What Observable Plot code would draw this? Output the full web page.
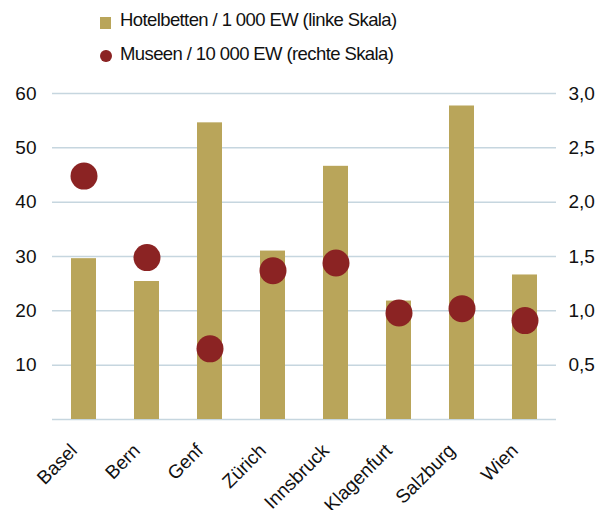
<!DOCTYPE html>
<html>
<head>
<meta charset="utf-8">
<script src="https://cdn.jsdelivr.net/npm/d3@7"></script>
<script src="https://cdn.jsdelivr.net/npm/@observablehq/plot@0.6"></script>
<style>
  body { margin: 0; background: #fff; font-family: "Liberation Sans", Arial, sans-serif; }
  #wrap { width: 616px; }
  #legend { position: relative; height: 75px; width: 616px; }
  #legend .sw { position: absolute; }
  #legend .lt { position: absolute; left: 120px; font-size: 18.5px; line-height: 18.5px; letter-spacing: -0.6px; color: #111; white-space: nowrap; }
</style>
</head>
<body>
<div id="wrap">
  <div id="legend"></div>
  <div id="chart"></div>
</div>
<script>
const cities = ["Basel", "Bern", "Genf", "Zürich", "Innsbruck", "Klagenfurt", "Salzburg", "Wien"];
const hotelbetten = [29.6, 25.4, 54.6, 31.0, 46.6, 21.8, 57.7, 26.6];
const museen = [2.24, 1.49, 0.65, 1.37, 1.44, 0.98, 1.02, 0.91];
const leftTicks = [10, 20, 30, 40, 50, 60];
const rightTicks = [0.5, 1.0, 1.5, 2.0, 2.5, 3.0];
const gridValues = [0, 10, 20, 30, 40, 50, 60];
const seriesNames = ["Hotelbetten / 1 000 EW (linke Skala)", "Museen / 10 000 EW (rechte Skala)"];
const barColor = "#b9a55a";
const dotColor = "#8b2323";
const gridColor = "#c6d6df";
const ratio = 20; // right scale 3,0 corresponds to left 60

const data = cities.map((c, i) => ({city: c, hotel: hotelbetten[i], museen: museen[i]}));

// legend
const legend = document.getElementById("legend");
legend.innerHTML = `
  <div class="sw" style="left:100px;top:17px;width:11px;height:12px;background:${barColor}"></div>
  <div class="lt" style="top:11px">${seriesNames[0]}</div>
  <div class="sw" style="left:100px;top:49.5px;width:11.5px;height:12px;border-radius:50%;background:${dotColor}"></div>
  <div class="lt" style="top:45.3px">${seriesNames[1]}</div>
`;

const chart = Plot.plot({
  width: 616,
  height: 435,
  marginTop: 18,
  marginBottom: 91,
  marginLeft: 52,
  marginRight: 60,
  style: {fontFamily: "'Liberation Sans', Arial, sans-serif", fontSize: "19px", color: "#111"},
  x: {domain: cities, paddingInner: 0.6, paddingOuter: 0.3, align: 0.5},
  y: {domain: [0, 60]},
  marks: [
    Plot.gridY(gridValues, {stroke: gridColor, strokeOpacity: 1, strokeWidth: 1.5}),
    Plot.barY(data, {x: "city", y: "hotel", fill: barColor}),
    Plot.dot(data, {x: "city", y: d => d.museen * ratio, r: 13.5, fill: dotColor}),
    Plot.axisY(leftTicks, {anchor: "left", tickSize: 0, tickPadding: 16, label: null, fontSize: 19}),
    Plot.axisY(rightTicks.map(v => v * ratio), {anchor: "right", tickSize: 0, tickPadding: 12, label: null, fontSize: 19,
      tickFormat: d => (d / ratio).toFixed(1).replace(".", ",")}),
    Plot.axisX({tickSize: 0, tickPadding: 10, tickRotate: -45, label: null, fontSize: 19, dx: -10, dy: 18})
  ]
});
document.getElementById("chart").appendChild(chart);
</script>
</body>
</html>
